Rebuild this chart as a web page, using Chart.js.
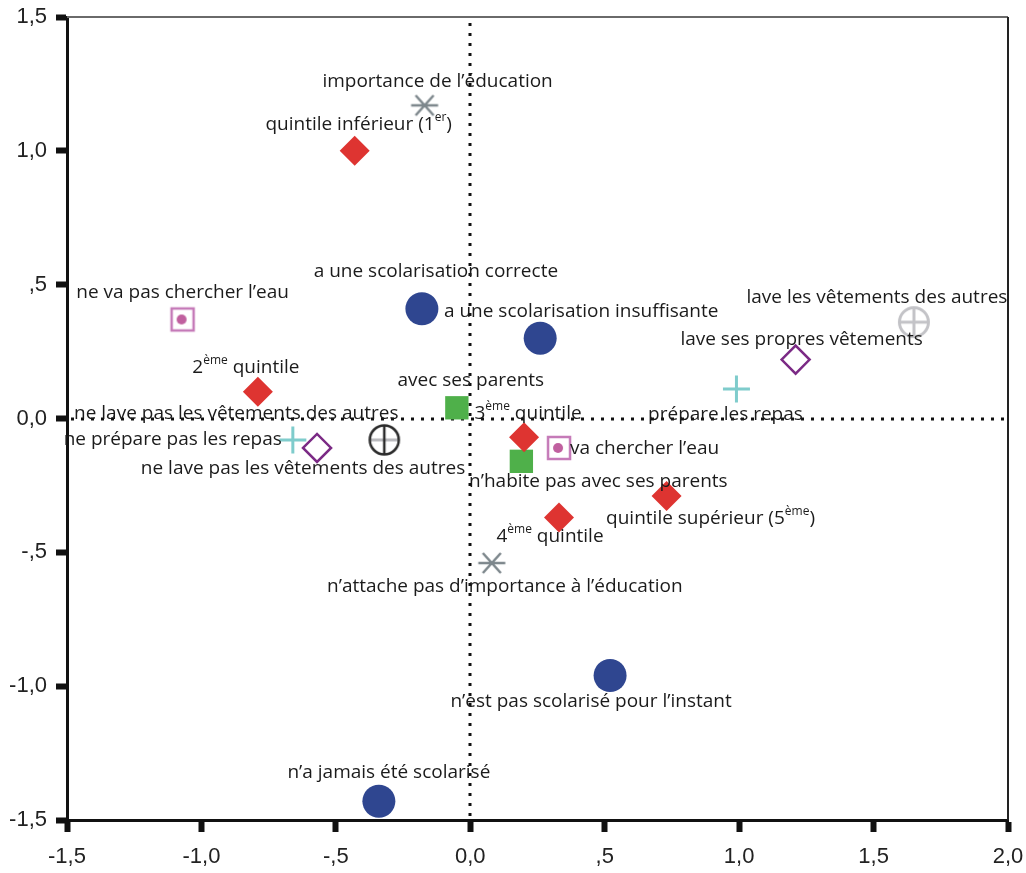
<!DOCTYPE html>
<html>
<head>
<meta charset="utf-8">
<script src="https://cdn.jsdelivr.net/npm/chart.js@4/dist/chart.umd.min.js"></script>
<style>
  html, body { margin: 0; padding: 0; background: #fff; }
  #wrap { width: 1026px; height: 873px; }
</style>
</head>
<body>
<div id="wrap"><canvas id="c" width="1026" height="873"></canvas></div>
<script>
// Scolarisation
const scolLabels = ['a une scolarisation correcte', 'a une scolarisation insuffisante', 'n’est pas scolarisé pour l’instant', 'n’a jamais été scolarisé'];
const scolX = [-0.18, 0.26, 0.52, -0.34];
const scolY = [0.41, 0.30, -0.96, -1.43];

// Quintiles de richesse
const quintLabels = ['quintile inférieur (1^{er})', '2^{ème} quintile', '3^{ème} quintile', '4^{ème} quintile', 'quintile supérieur (5^{ème})'];
const quintX = [-0.43, -0.79, 0.20, 0.33, 0.73];
const quintY = [1.00, 0.10, -0.07, -0.37, -0.29];

// Vit avec ses parents
const parentLabels = ['avec ses parents', 'n’habite pas avec ses parents'];
const parentX = [-0.05, 0.19];
const parentY = [0.04, -0.16];

// Corvée d'eau
const eauLabels = ['ne va pas chercher l’eau', 'va chercher l’eau'];
const eauX = [-1.07, 0.33];
const eauY = [0.37, -0.11];

// Repas
const repasLabels = ['prépare les repas', 'ne prépare pas les repas'];
const repasX = [0.99, -0.66];
const repasY = [0.11, -0.08];

// Lessive : ses propres vêtements
const propresLabels = ['lave ses propres vêtements', 'ne lave pas les vêtements des autres'];
const propresX = [1.21, -0.57];
const propresY = [0.22, -0.11];

// Lessive : vêtements des autres
const autresLabels = ['lave les vêtements des autres', 'ne lave pas les vêtements des autres'];
const autresX = [1.65, -0.32];
const autresY = [0.36, -0.08];

// Importance accordée à l'éducation
const eduLabels = ['importance de l’éducation', 'n’attache pas d’importance à l’éducation'];
const eduX = [-0.17, 0.08];
const eduY = [1.17, -0.54];

// Graduations
const xTickLabels = ['-1,5', '-1,0', '-,5', '0,0', ',5', '1,0', '1,5', '2,0'];
const yTickLabels = ['-1,5', '-1,0', '-,5', '0,0', ',5', '1,0', '1,5'];

const pts = (xs, ys) => xs.map((x, i) => ({ x: x, y: ys[i] }));

// Label placement (pixel offsets from the marker, alignment)
const labelPlacement = {
  scol:    [[14, -37, 'center'], [41, -27, 'center'], [-19, 26, 'center'], [10, -29, 'center']],
  quint:   [[4, -26, 'center'], [-12, -24, 'center'], [4, -24, 'center'], [-9, 19, 'center'], [44, 22, 'center']],
  parent:  [[14, -27, 'center'], [77, 20, 'center']],
  eau:     [[0, -27, 'center'], [11, 1, 'left']],
  repas:   [[-11, 26, 'center'], [-11, 0, 'right']],
  propres: [[6, -20, 'center'], [-14, 21, 'center']],
  autres:  [[-37, -25, 'center'], [-148, -26, 'center']],
  edu:     [[13, -24, 'center'], [13, 24, 'center']]
};

// Custom marker glyphs
function glyph(size, draw) {
  const c = document.createElement('canvas');
  c.width = size; c.height = size;
  const g = c.getContext('2d');
  draw(g, size / 2);
  return c;
}
const squareDot = glyph(28, (g, m) => {
  g.strokeStyle = '#c57ab8'; g.lineWidth = 2.5;
  g.strokeRect(m - 11, m - 11, 22, 22);
  g.fillStyle = '#c0609f';
  g.beginPath(); g.arc(m - 1, m, 5, 0, Math.PI * 2); g.fill();
});
const asterisk = glyph(32, (g, m) => {
  g.strokeStyle = '#7d878c'; g.lineWidth = 2.5;
  g.beginPath();
  g.moveTo(m - 13.5, m); g.lineTo(m + 13.5, m);
  g.moveTo(m - 9, m - 10); g.lineTo(m + 9, m + 10);
  g.moveTo(m - 9, m + 10); g.lineTo(m + 9, m - 10);
  g.stroke();
});
const circleCrossLight = glyph(36, (g, m) => {
  g.strokeStyle = '#c3c3c7'; g.lineWidth = 3;
  g.beginPath(); g.arc(m, m, 14.5, 0, Math.PI * 2); g.stroke();
  g.beginPath();
  g.moveTo(m - 14.5, m); g.lineTo(m + 14.5, m);
  g.moveTo(m, m - 14.5); g.lineTo(m, m + 14.5);
  g.stroke();
});
const circleCrossDark = glyph(36, (g, m) => {
  g.strokeStyle = '#b9b9bd'; g.lineWidth = 3;
  g.beginPath(); g.moveTo(m - 14.5, m); g.lineTo(m + 14.5, m); g.stroke();
  g.strokeStyle = '#2b2b2b'; g.lineWidth = 2.5;
  g.beginPath(); g.arc(m, m, 14.5, 0, Math.PI * 2); g.stroke();
  g.beginPath(); g.moveTo(m, m - 14.5); g.lineTo(m, m + 14.5); g.stroke();
});

const datasets = [
  { key: 'scol', labels: scolLabels, data: pts(scolX, scolY), pointStyle: 'circle', pointRadius: 16.5,
    backgroundColor: '#2f4690', borderColor: '#2f4690', borderWidth: 0 },
  { key: 'quint', labels: quintLabels, data: pts(quintX, quintY), pointStyle: 'rectRot', pointRadius: 15,
    backgroundColor: '#de3431', borderColor: '#de3431', borderWidth: 0 },
  { key: 'parent', labels: parentLabels, data: pts(parentX, parentY), pointStyle: 'rect', pointRadius: 16.5,
    backgroundColor: '#4fb04a', borderColor: '#4fb04a', borderWidth: 0 },
  { key: 'eau', labels: eauLabels, data: pts(eauX, eauY), pointStyle: squareDot, pointRadius: 14 },
  { key: 'repas', labels: repasLabels, data: pts(repasX, repasY), pointStyle: 'cross', pointRadius: 13.5,
    backgroundColor: '#7fcccc', borderColor: '#7fcccc', borderWidth: 3 },
  { key: 'propres', labels: propresLabels, data: pts(propresX, propresY), pointStyle: 'rectRot', pointRadius: 14,
    backgroundColor: 'rgba(255,255,255,0)', borderColor: '#7b2a85', borderWidth: 2.5 },
  { key: 'autres', labels: autresLabels, data: pts(autresX, autresY),
    pointStyle: [circleCrossLight, circleCrossDark], pointRadius: 16 },
  { key: 'edu', labels: eduLabels, data: pts(eduX, eduY), pointStyle: asterisk, pointRadius: 14 }
];

const LABEL_FONT = '"Open Sans", "Noto Sans", sans-serif';

function drawRichText(ctx, text, x, y, align) {
  const parts = [];
  const re = /\^\{([^}]*)\}/g;
  let last = 0, m;
  while ((m = re.exec(text)) !== null) {
    if (m.index > last) parts.push({ t: text.slice(last, m.index), sup: false });
    parts.push({ t: m[1], sup: true });
    last = re.lastIndex;
  }
  if (last < text.length) parts.push({ t: text.slice(last), sup: false });
  const fontMain = '19px ' + LABEL_FONT;
  const fontSup = '12px ' + LABEL_FONT;
  let total = 0;
  parts.forEach(p => { ctx.font = p.sup ? fontSup : fontMain; p.w = ctx.measureText(p.t).width; total += p.w; });
  let cx = align === 'left' ? x : align === 'right' ? x - total : x - total / 2;
  ctx.textAlign = 'left';
  ctx.textBaseline = 'middle';
  parts.forEach(p => {
    ctx.font = p.sup ? fontSup : fontMain;
    ctx.fillText(p.t, cx, p.sup ? y - 7 : y);
    cx += p.w;
  });
}

const referenceLines = {
  id: 'referenceLines',
  beforeDatasetsDraw(chart) {
    const { ctx, chartArea: a, scales: { x, y } } = chart;
    const px = Math.round(x.getPixelForValue(0));
    const py = Math.round(y.getPixelForValue(0));
    ctx.save();
    ctx.strokeStyle = '#111';
    ctx.lineWidth = 3;
    ctx.setLineDash([3, 7]);
    ctx.beginPath();
    ctx.moveTo(px, a.top + 6); ctx.lineTo(px, a.bottom);
    ctx.moveTo(a.left + 4, py); ctx.lineTo(a.right, py);
    ctx.stroke();
    ctx.restore();
  }
};

const frame = {
  id: 'frame',
  afterDraw(chart) {
    const { ctx, chartArea: a } = chart;
    ctx.save();
    ctx.lineWidth = 2;
    ctx.strokeStyle = '#6a6a6a';
    ctx.beginPath(); ctx.moveTo(a.left, a.top); ctx.lineTo(a.right, a.top); ctx.stroke();
    ctx.strokeStyle = '#222';
    ctx.beginPath(); ctx.moveTo(a.right, a.top); ctx.lineTo(a.right, a.bottom); ctx.stroke();
    ctx.restore();
  }
};

const pointLabels = {
  id: 'pointLabels',
  afterDatasetsDraw(chart) {
    const ctx = chart.ctx;
    ctx.save();
    ctx.fillStyle = '#1b1b1b';
    chart.data.datasets.forEach((ds, di) => {
      const meta = chart.getDatasetMeta(di);
      meta.data.forEach((el, i) => {
        const [dx, dy, align] = labelPlacement[ds.key][i];
        drawRichText(ctx, ds.labels[i], el.x + dx, el.y + dy, align);
      });
    });
    ctx.restore();
  }
};

const tickFont = { family: '"Liberation Sans", Arial, sans-serif', size: 22 };

new Chart(document.getElementById('c'), {
  type: 'scatter',
  data: { datasets: datasets },
  plugins: [referenceLines, pointLabels, frame],
  options: {
    responsive: false,
    animation: false,
    events: [],
    layout: { padding: { top: 15, right: 18, left: 0, bottom: 0 } },
    plugins: { legend: { display: false }, tooltip: { enabled: false } },
    scales: {
      x: {
        type: 'linear', min: -1.5, max: 2.0,
        afterFit(s) { s.height = 53; s.paddingLeft = 0; s.paddingRight = 0; },
        ticks: { stepSize: 0.5, color: '#222', font: tickFont, padding: 12,
                 callback: (v, i) => xTickLabels[i] },
        grid: { drawOnChartArea: false, drawTicks: true, tickLength: 12, tickWidth: 6, tickColor: '#111' },
        border: { display: true, width: 3, color: '#111' }
      },
      y: {
        type: 'linear', min: -1.5, max: 1.5,
        afterFit(s) { s.width = 67; s.paddingTop = 0; s.paddingBottom = 0; },
        ticks: { stepSize: 0.5, color: '#222', font: tickFont, padding: 9,
                 callback: (v, i) => yTickLabels[i] },
        grid: { drawOnChartArea: false, drawTicks: true, tickLength: 11, tickWidth: 6, tickColor: '#111' },
        border: { display: true, width: 3, color: '#111' }
      }
    }
  }
});
</script>
</body>
</html>
